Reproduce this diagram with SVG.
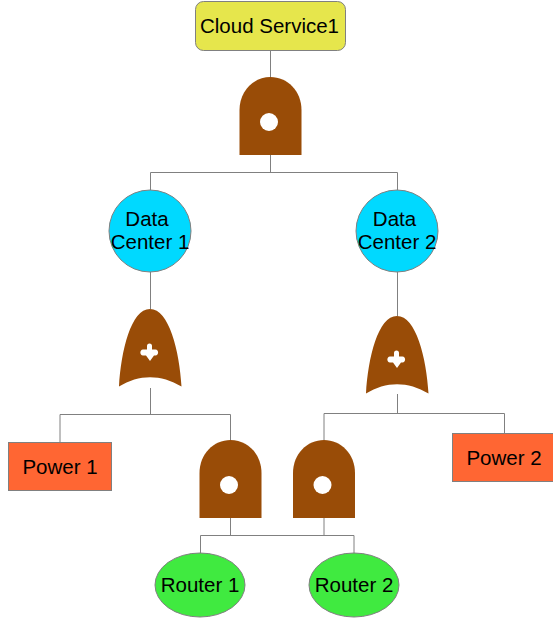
<svg xmlns="http://www.w3.org/2000/svg" width="553" height="622" viewBox="0 0 553 622">
<style>
.c{fill:none;stroke:#808080;stroke-width:1}
.n{stroke:#808080;stroke-width:1}
.g{fill:#994c07}
.h{fill:#fff}
text{font-family:"Liberation Sans",Arial,sans-serif;font-size:20.500px;fill:#000;text-anchor:middle}
</style>
<defs>
<g id="and"><path class="g" d="M0 78V33C0 14 14 0 31 0S62 14 62 33V78Z"/><circle class="h" cx="29.500" cy="45" r="9"/></g>
<g id="or"><path class="g" d="M0 77.500C2 42 12 0 31 0S60.500 42 62.500 77.500C42 65 20 65 0 77.500Z"/><path class="h" d="M28 37a2.500 2.500 0 0 1 5 0V40.500H36.500C40 40.500 40 46.500 36.500 46.500H35L31 52L27 46.500H24C20.500 46.500 20.500 40.500 24 40.500H28Z"/></g>
</defs>
<g id="connectors">
<path class="c" d="M270.500 51V77M270.500 155V172.500M150.500 190V172.500H397.500V190"/>
<path class="c" d="M150.500 272V309M397.500 272V316"/>
<path class="c" d="M150.500 388V414.500M60 442V414.500H230.500V440"/>
<path class="c" d="M397.500 394V413.500M324 440V413.500H504.500V433"/>
<path class="c" d="M230.500 518V535.500M324 518V535.500M200.500 553V535.500H354V553"/>
</g>
<g id="cloud-service-1"><rect class="n" x="195.500" y="1.500" width="150" height="49" rx="8" fill="#e6e64c"/><text x="269.500" y="33">Cloud Service1</text></g>
<g id="and-top"><use href="#and" x="239.500" y="77"/></g>
<g id="data-center-1"><circle class="n" cx="150" cy="231" r="41" fill="#00d9ff"/><text x="147" y="226">Data</text><text x="150" y="249">Center 1</text></g>
<g id="data-center-2"><circle class="n" cx="397" cy="231" r="41" fill="#00d9ff"/><text x="394.500" y="226">Data</text><text x="397" y="249">Center 2</text></g>
<g id="or-left"><use href="#or" x="119" y="309"/></g>
<g id="or-right"><use href="#or" x="366" y="316"/></g>
<g id="power-1"><rect class="n" x="8.500" y="442.500" width="103" height="48" fill="#ff6633"/><text x="60" y="474">Power 1</text></g>
<g id="power-2"><rect class="n" x="452.500" y="433.500" width="101" height="48" fill="#ff6633"/><text x="504" y="464.500">Power 2</text></g>
<g id="and-left"><use href="#and" x="199.500" y="440"/></g>
<g id="and-right"><use href="#and" x="293" y="440"/></g>
<g id="router-1"><ellipse class="n" cx="200" cy="585" rx="45" ry="32" fill="#40ea40"/><text x="200" y="592">Router 1</text></g>
<g id="router-2"><ellipse class="n" cx="354" cy="585" rx="45" ry="32" fill="#40ea40"/><text x="354" y="592">Router 2</text></g>
</svg>
